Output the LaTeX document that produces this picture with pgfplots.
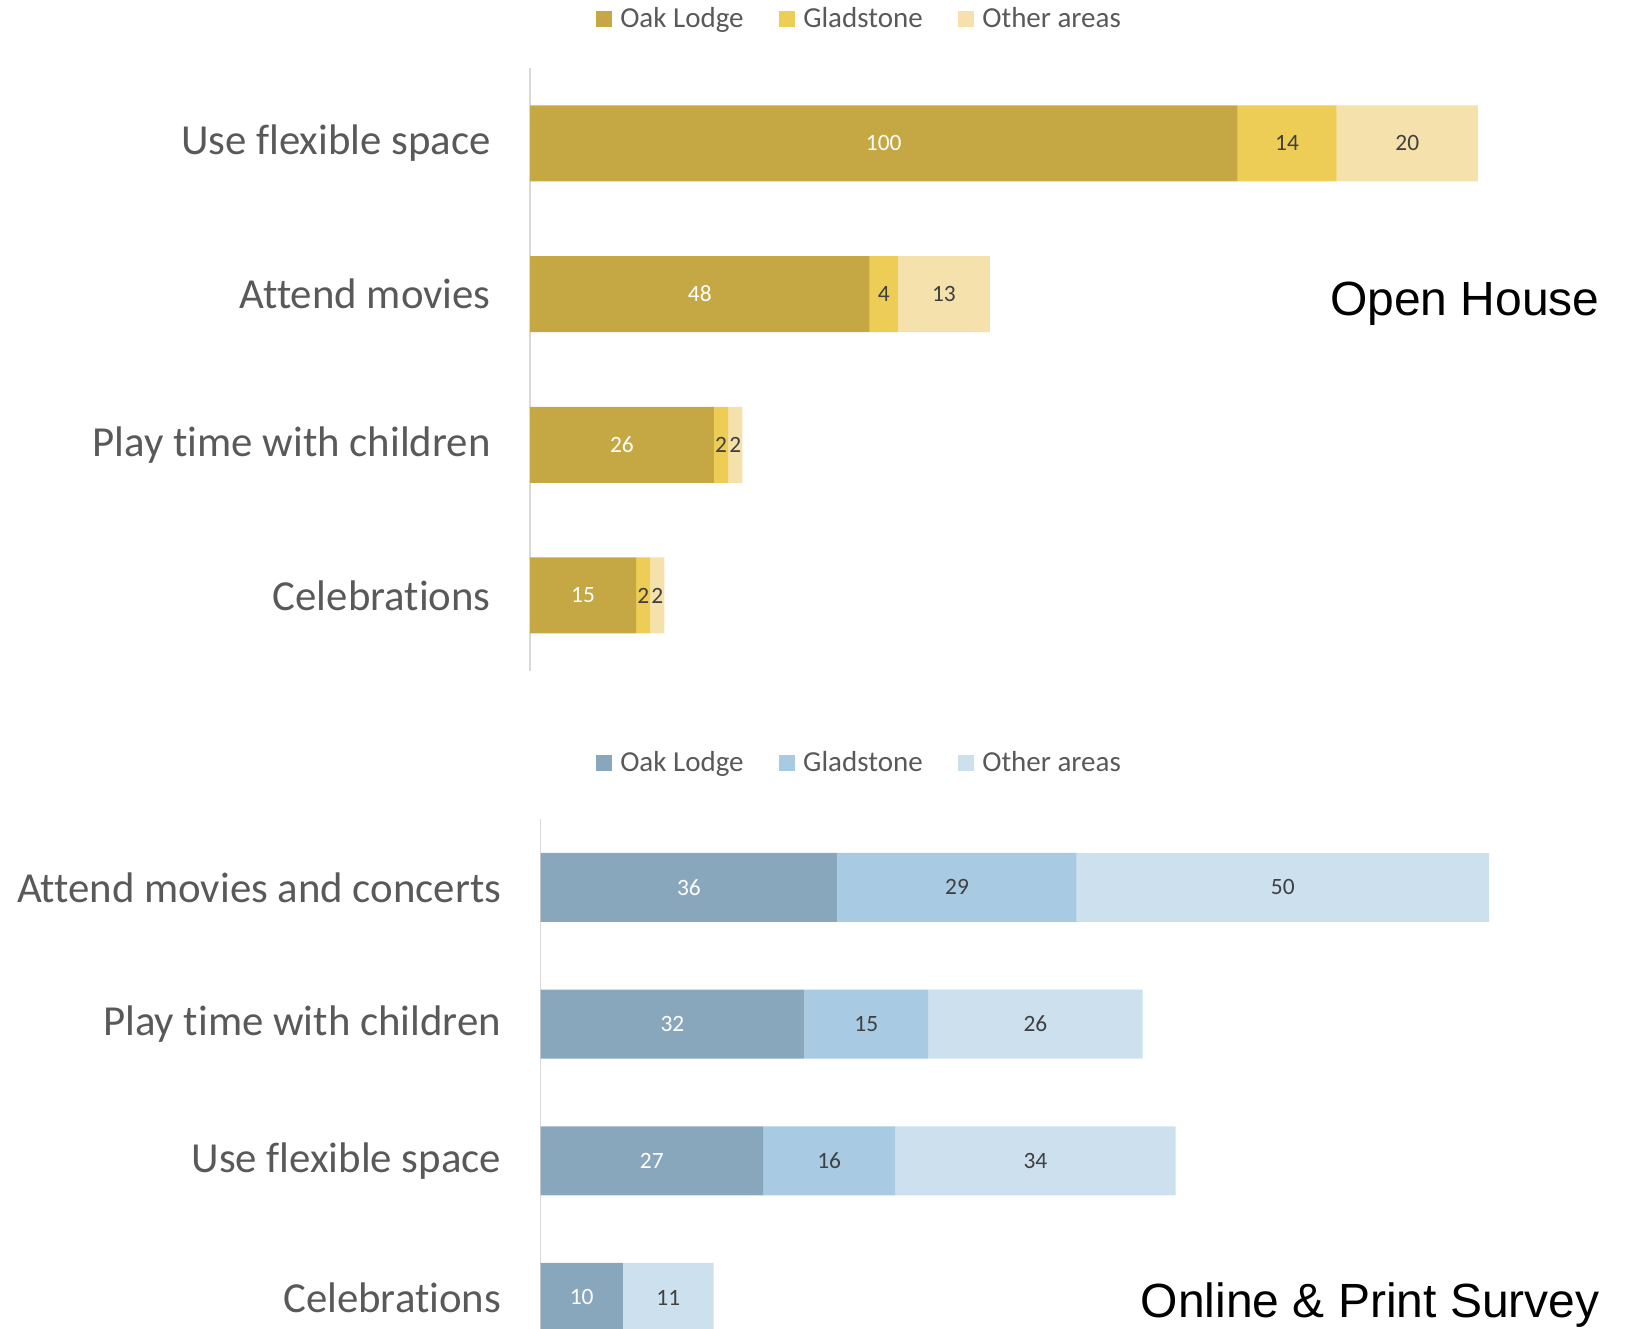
\documentclass[border=0pt]{standalone}
\usepackage{pgfplots}
\pgfplotsset{compat=1.18}
\usepackage{pgfplotstable}
\usepackage{fontspec}
\setmainfont{Carlito}[Ligatures={NoCommon}]
\newfontfamily\arialfont{Liberation Sans}

\definecolor{oakY}{HTML}{C5A843}
\definecolor{gladY}{HTML}{EDCD55}
\definecolor{otherY}{HTML}{F5E1AB}
\definecolor{oakB}{HTML}{89A7BC}
\definecolor{gladB}{HTML}{A8CBE3}
\definecolor{otherB}{HTML}{CCE0EE}
\definecolor{txt}{HTML}{595959}
\definecolor{lbl}{HTML}{404040}

% Open House counts (rows top to bottom)
\pgfplotstableread{
idx oak glad other
0   100 14   20
1   48  4    13
2   26  2    2
3   15  2    2
}\openhouse

% Online & Print Survey counts
\pgfplotstableread{
idx oak glad other
0   36  29   50
1   32  15   26
2   27  16   34
3   10  0    11
}\survey

\pgfplotsset{
  panel/.style={
    scale only axis,
    xbar stacked,
    y dir=reverse,
    ymin=-0.5, ymax=3.5,
    xmin=0,
    ytick={0,1,2,3},
    xtick=\empty,
    axis x line=none,
    axis y line*=left,
    axis line style={black!15, line width=0.9pt},
    major tick length=0pt,
    ytick style={draw=none},
    yticklabel style={font=\fontsize{21.4}{25}\selectfont, text=txt, inner sep=0pt, xshift=-19.5pt},
    /pgf/number format/assume math mode=true,
    clip=false,
    legend columns=3,
    legend image code/.code={\fill[##1] (0pt,-4pt) rectangle (8pt,4pt); \path (10pt,0pt);},
    legend style={anchor=center, draw=none, fill=none,
      font=\fontsize{14.5}{17}\selectfont, text=txt,
      /tikz/every even column/.append style={column sep=15.8pt}},
    nodes near coords={\ifdim\segval pt>0.5pt\relax\pgfmathprintnumber{\segval}\fi},
    every node near coord/.append style={anchor=center, inner xsep=0pt, font=\fontsize{11.7}{14}\selectfont},
  },
}

\begin{document}
\begin{tikzpicture}
\useasboundingbox (0,0) rectangle (818pt,-664pt);

\begin{axis}[panel,
  at={(265pt,-34pt)}, anchor=north west,
  width=530.625pt, height=301.4pt,
  xmax=150,
  bar width=38pt,
  yticklabels={Use flexible space, Attend movies, Play time with children, Celebrations},
  legend style={at={(0.3115,1.081)}},
]
\addplot[fill=oakY, draw=none, visualization depends on={\thisrow{oak} \as \segval},
  every node near coord/.append style={text=white}] table[x=oak, y=idx] {\openhouse};
\addplot[fill=gladY, draw=none, visualization depends on={\thisrow{glad} \as \segval},
  every node near coord/.append style={text=lbl}] table[x=glad, y=idx] {\openhouse};
\addplot[fill=otherY, draw=none, visualization depends on={\thisrow{other} \as \segval},
  every node near coord/.append style={text=lbl}] table[x=other, y=idx] {\openhouse};
\legend{Oak Lodge, Gladstone, Other areas}
\end{axis}

\begin{axis}[panel,
  at={(270.25pt,-409.5pt)}, anchor=north west,
  width=536.12pt, height=273.4pt,
  xmax=130,
  bar width=34.5pt,
  yticklabels={Attend movies and concerts, Play time with children, Use flexible space, Celebrations},
  legend style={at={(0.2985,1.102)}},
]
\addplot[fill=oakB, draw=none, visualization depends on={\thisrow{oak} \as \segval},
  every node near coord/.append style={text=white}] table[x=oak, y=idx] {\survey};
\addplot[fill=gladB, draw=none, visualization depends on={\thisrow{glad} \as \segval},
  every node near coord/.append style={text=lbl}] table[x=glad, y=idx] {\survey};
\addplot[fill=otherB, draw=none, visualization depends on={\thisrow{other} \as \segval},
  every node near coord/.append style={text=lbl}] table[x=other, y=idx] {\survey};
\legend{Oak Lodge, Gladstone, Other areas}
\end{axis}

\node[anchor=east, inner sep=0pt, font=\arialfont\fontsize{24}{28}\selectfont] at (800pt,-151.75pt) {Open House};
\node[anchor=east, inner sep=0pt, font=\arialfont\fontsize{24}{28}\selectfont] at (800pt,-652.5pt) {Online \& Print Survey};
\end{tikzpicture}
\end{document}
